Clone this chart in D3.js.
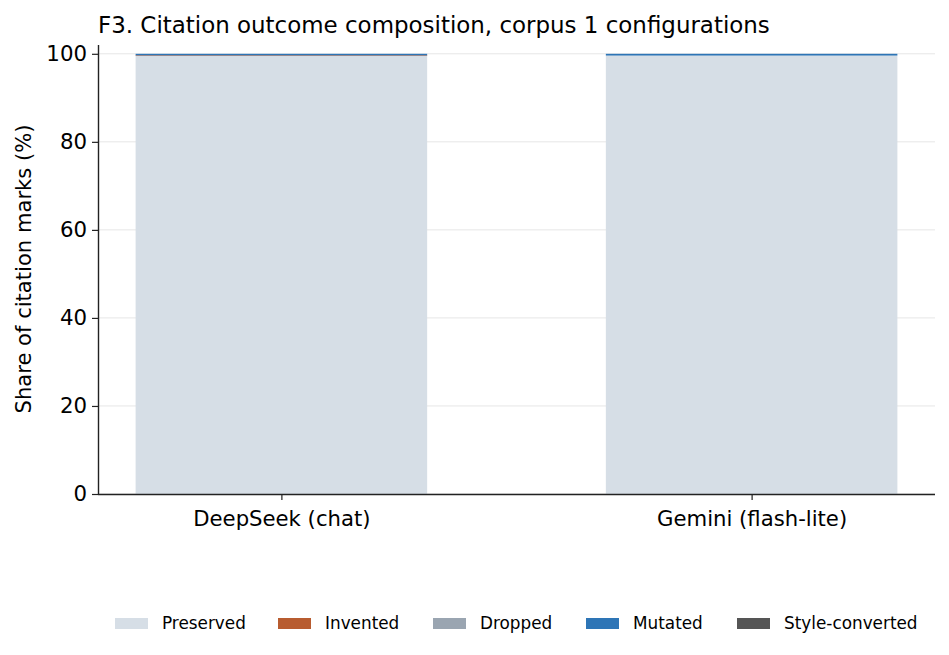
<!DOCTYPE html>
<html><head><meta charset="utf-8">
<script src="https://cdn.jsdelivr.net/npm/d3@7"></script>
<style>body{margin:0;background:#fff}svg{font-family:"DejaVu Sans",sans-serif}</style>
</head><body><svg id="c" width="949" height="655"></svg>
<script>
const categories = ["DeepSeek (chat)", "Gemini (flash-lite)"];
const seriesNames = ["Preserved", "Invented", "Dropped", "Mutated", "Style-converted"];
const seriesColors = ["#d6dee6", "#b85c30", "#9aa5b1", "#2e75b6", "#555555"];
const preserved = [99.5, 99.6];
const invented = [0.15, 0.0];
const dropped = [0.0, 0.0];
const mutated = [0.35, 0.4];
const styleConverted = [0.0, 0.0];
const yTicks = [0, 20, 40, 60, 80, 100];

const svg = d3.select("#c");
const x = d3.scaleLinear().domain([-0.39, 1.39]).range([98, 935]);
const y = d3.scaleLinear().domain([0, 102]).range([494, 45]);
const barW = 0.62;

const rows = categories.map((c, i) => ({cat: c, i,
  Preserved: preserved[i], Invented: invented[i], Dropped: dropped[i],
  Mutated: mutated[i], "Style-converted": styleConverted[i]}));
const stack = d3.stack().keys(seriesNames)(rows);

// grid
svg.append("g").selectAll("line").data(yTicks).join("line")
  .attr("x1", x(-0.39)).attr("x2", x(1.39))
  .attr("y1", d => y(d)).attr("y2", d => y(d))
  .attr("stroke", "#e6e6e6").attr("stroke-width", 1);

// bars
stack.forEach((s, k) => {
  svg.append("g").attr("fill", seriesColors[k]).selectAll("rect").data(s).join("rect")
    .attr("x", d => x(d.data.i - barW / 2))
    .attr("width", d => x(barW) - x(0))
    .attr("y", d => y(d[1]))
    .attr("height", d => Math.max(0, y(d[0]) - y(d[1])));
});

// axes
const yAxis = svg.append("g").attr("transform", "translate(98,0)")
  .call(d3.axisLeft(y).tickValues(yTicks).tickSize(6).tickPadding(5));
const xAxis = svg.append("g").attr("transform", "translate(0,494)")
  .call(d3.axisBottom(x).tickValues([0, 1]).tickFormat(d => categories[d]).tickSize(6).tickPadding(11));
[yAxis, xAxis].forEach(a => {
  a.attr("font-size", null).attr("font-family", null);
  a.selectAll("text").attr("fill", "#000").style("font-family", "DejaVu Sans");
  a.selectAll("line").attr("stroke", "#222").attr("stroke-width", 1.2);
  a.select(".domain").attr("stroke", "#222").attr("stroke-width", 1.4);
});
yAxis.selectAll("text").style("font-size", "21.3px");
xAxis.selectAll("text").style("font-size", "21.2px");
xAxis.select(".domain").attr("d", "M98,0.5H935");
yAxis.select(".domain").attr("d", "M0.5,494V45");

svg.append("text").attr("x", 98).attr("y", 33).style("font-size", "22.95px")
  .text("F3. Citation outcome composition, corpus 1 configurations");
svg.append("text").attr("transform", "translate(31,269) rotate(-90)")
  .attr("text-anchor", "middle").style("font-size", "21.1px").text("Share of citation marks (%)");

// legend
const legX = [115, 278, 433, 586, 737];
const leg = svg.append("g");
seriesNames.forEach((n, k) => {
  leg.append("rect").attr("x", legX[k]).attr("y", 618).attr("width", 33).attr("height", 11).attr("fill", seriesColors[k]);
  leg.append("text").attr("x", legX[k] + 47).attr("y", 629).style("font-size", "16.85px").text(n);
});
</script></body></html>
